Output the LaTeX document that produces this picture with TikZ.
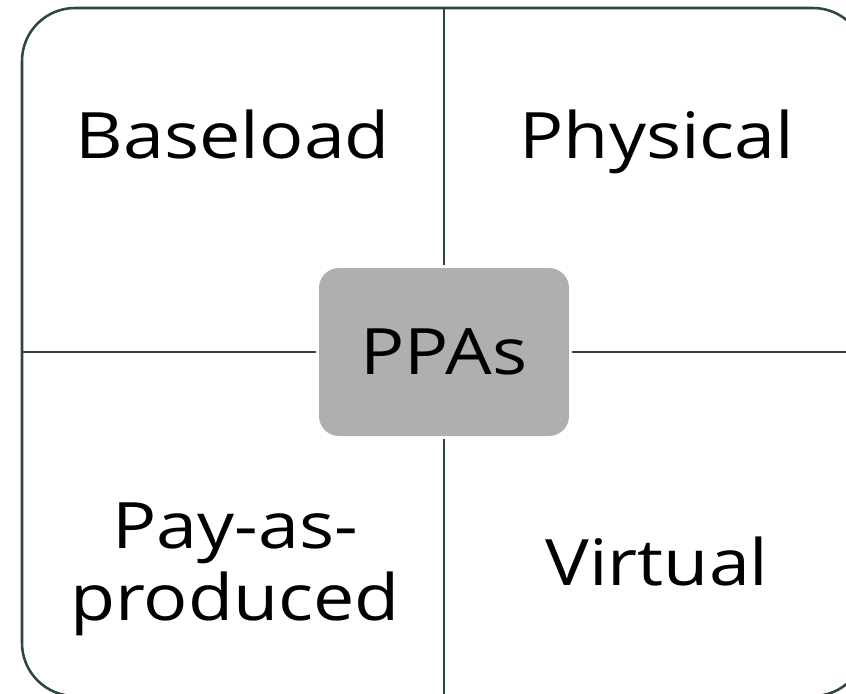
\documentclass[tikz,border=0pt]{standalone}
\usepackage{fontspec}
\setmainfont[FakeStretch=1.15]{Open Sans}
\definecolor{frame}{HTML}{2F4541}
\definecolor{boxgray}{HTML}{ADB0AE}
\tikzset{
  quadtext/.style={inner sep=0pt, anchor=base, align=center, font=\fontsize{48}{54}\selectfont},
  divider/.style={-, line width=1.5pt, draw=frame},
}

\begin{document}
\begin{tikzpicture}[x=0.75pt,y=-0.75pt]
			\useasboundingbox (0,0) rectangle (846,693);
			\clip (0,0) rectangle (846,693);
			\draw[line width=1.9pt, draw=frame, rounded corners=39.75pt] (22,8) rectangle (866,696);
			
			\node[shape=rectangle, fill=boxgray, rounded corners=15pt, minimum width=187.5pt, minimum height=126pt, outer sep=2.5pt, font=\fontsize{48}{54}\selectfont] (P) at (444,352) {PPAs};
			
			\coordinate (T) at (444,8);
			\coordinate (Bo) at (444,696);
			\coordinate (L) at (22,352);
			\coordinate (R) at (866,352);
			
			\path [divider] (T) edge (P);
			\path [divider] (P) edge (Bo);
			\path [divider] (L) edge (P);
			\path [divider] (P) edge (R);
			
			\node[quadtext] (base) at (233,158) {Baseload};
			\node[quadtext] (phys) at (657,158) {Physical};
			\node[quadtext] (pap) at (235,620) {Pay-as-\\produced};
			\node[quadtext] (virt) at (657,585) {Virtual};
\end{tikzpicture}
\end{document}
